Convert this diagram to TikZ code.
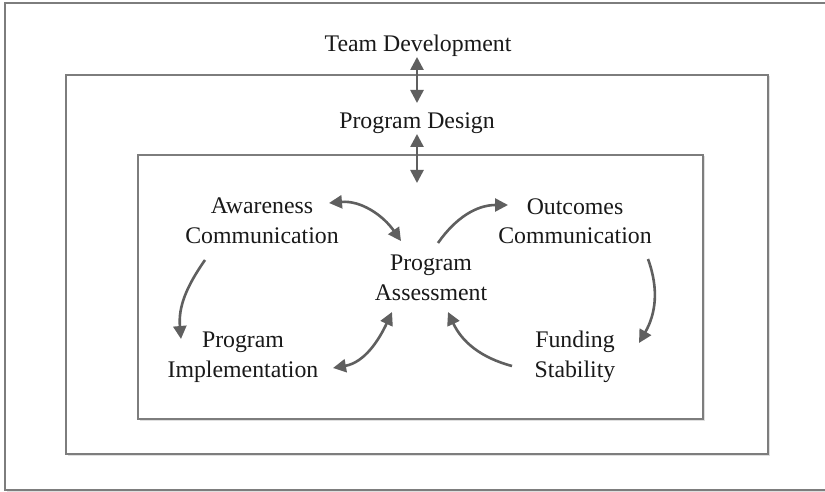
\documentclass[tikz,border=0pt]{standalone}
\usepackage{fontspec}
\setmainfont{Liberation Serif}
\usetikzlibrary{arrows.meta,calc,shadows}
\definecolor{framegray}{RGB}{125,125,125}
\definecolor{arrowgray}{RGB}{95,95,95}
\tikzset{
  frame/.style={draw=framegray, line width=1.5pt, fill=white,
    drop shadow={shadow xshift=1.5pt, shadow yshift=-1.5pt, opacity=0.25}},
  label/.style={align=center, inner sep=0pt, font=\fontsize{23.8}{29.5}\selectfont, text=black!90},
  flow/.style={draw=arrowgray, line width=2.6pt, -{Triangle[length=13pt,width=13pt]}},
  both/.style={flow, {Triangle[length=13pt,width=13pt]}-{Triangle[length=13pt,width=13pt]}}
}
\begin{document}
\begin{tikzpicture}[x=1pt,y=-1pt]
  \useasboundingbox (0,0) rectangle (825,492);
  % nested frames
  \draw[frame] (5,3) rectangle (830,490);
  \draw[frame] (66,75) rectangle (768,454);
  \draw[frame] (138,155) rectangle (703,419);

  % labels
  \node[label] (td) at (418,46) {Team Development};
  \node[label] (pd) at (417,123) {Program Design};
  \node[label] (aw) at (262,221) {Awareness\\Communication};
  \node[label] (pa) at (431,278) {Program\\Assessment};
  \node[label] (oc) at (575,221) {Outcomes\\Communication};
  \node[label] (pi) at (243,357) {Program\\Implementation};
  \node[label] (fs) at (575,357) {Funding\\Stability};

  % vertical links
  \draw[both] ($(td)+(-1,11)$) -- ($(pd)+(0,-20)$);
  \draw[both] ($(pd)+(0,11)$) -- ($(pa)+(-14,-95)$);

  % cycle around the assessment
  \draw[both] ($(aw)+(67,-18)$) to[out=5,in=125] ($(pa)+(-30,-37)$);
  \draw[flow] ($(pa)+(7,-35)$) to[out=55,in=180] ($(oc)+(-67,-16)$);
  \draw[flow] ($(oc)+(73,38)$) to[out=-70,in=60] ($(fs)+(64,-14)$);
  \draw[flow] ($(fs)+(-63,9)$) to[out=165,in=-65] ($(pa)+(17,34)$);
  \draw[flow] ($(aw)+(-57,39)$) to[out=-125,in=95] ($(pi)+(-62,-18)$);
  \draw[both] ($(pi)+(90,11)$) to[out=10,in=-115] ($(pa)+(-39,34)$);
\end{tikzpicture}
\end{document}
